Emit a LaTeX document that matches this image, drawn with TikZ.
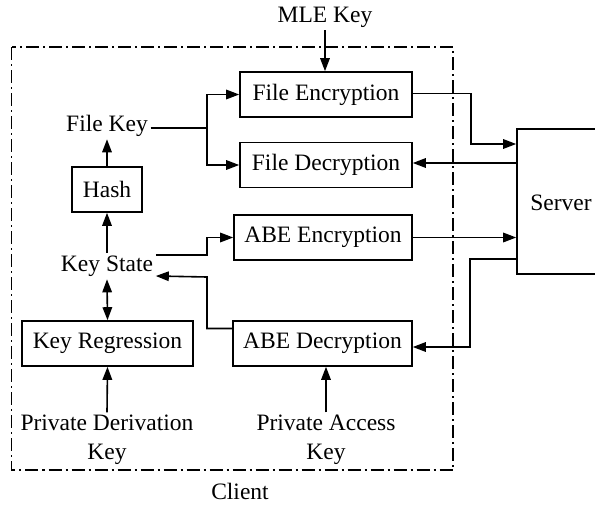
\documentclass[tikz,border=0pt]{standalone}
\usepackage{fontspec}
\setmainfont{Liberation Serif}
\usetikzlibrary{arrows.meta}
\begin{document}
\begin{tikzpicture}[x=1pt,y=-1pt,
  font=\fontsize{23.5}{29}\selectfont,
  line width=1.6pt,
  arr/.style={-{Triangle[length=13pt,width=9.5pt]}},
  darr/.style={{Triangle[length=13pt,width=9.5pt]}-{Triangle[length=13pt,width=9.5pt]}},
  box/.style={draw,rectangle,inner sep=0pt,minimum height=45pt},
  lbl/.style={inner sep=2pt,text height=16pt,text depth=5pt},
  client/.style={dash pattern=on 13pt off 4pt on 2pt off 4pt,line width=1.3pt}]
\clip (0,0) rectangle (595,504);
\fill[white] (0,0) rectangle (595,504);
% client boundary
\draw[client] (11.5,47) rectangle (453,470);
% boxes
\node[box,minimum width=172pt] (fenc) at (326,94.5) {File Encryption};
\node[box,minimum width=172pt] (fdec) at (326,165) {File Decryption};
\node[box,minimum width=178pt] (aenc) at (323,237.5) {ABE Encryption};
\node[box,minimum width=179pt] (adec) at (322.5,343.5) {ABE Decryption};
\node[box,minimum width=70pt] (hash) at (107,189.5) {Hash};
\node[box,minimum width=171pt] (kreg) at (107.5,343.5) {Key Regression};
\node[box,minimum width=90pt,minimum height=145pt] (srv) at (562,201.5) {};
\node[inner sep=0pt] (srvtxt) at (561,203) {Server};
% labels
\node[lbl] (mle) at (325,17) {MLE Key};
\node[lbl] (fkey) at (107,126) {File Key};
\node[lbl] (ks) at (107,266) {Key State};
\node[align=center,inner sep=2pt] (pdk) at (107,440) {Private Derivation\\Key};
\node[align=center,inner sep=2pt] (pak) at (326,440) {Private Access\\Key};
\node[inner sep=1pt] (cl) at (240,491) {Client};
% coordinates
\coordinate (br) at (207,128);
\coordinate (j1) at (207,237.5);
\coordinate (j2) at (207,277);
\coordinate (c1) at (471,144);
\coordinate (c2) at (470,259);
% connectors
\draw[arr] (mle.south) -- (mle.south |- fenc.north);
\draw (fkey.east |- br) -- (br);
\draw[arr] (br) |- (fenc.west);
\draw[arr] (br) |- (fdec.west);
\draw[arr] (hash.north) -- (fkey.south);
\draw[arr] (ks.north) -- (hash.south);
\draw[darr] (ks.south) -- (kreg.north);
\draw[arr] (pdk.north) -- (kreg.south);
\draw[arr] (pak.north) -- (pak.north |- adec.south);
\draw[arr] ([yshift=11pt]ks.east) -| (j1) -- (aenc.west);
\draw[arr] ([yshift=15pt]adec.west) -| (j2) -- ([yshift=-10pt]ks.east);
\draw[arr] ([yshift=1pt]fenc.east) -| (c1) -- (c1 -| srv.west);
\draw[arr] ([yshift=2pt]fdec.east -| srv.west) -- ([yshift=2pt]fdec.east);
\draw[arr] (aenc.east) -- (aenc.east -| srv.west);
\draw[arr] (c2 -| srv.west) -- (c2) |- ([yshift=-3.5pt]adec.east);
\end{tikzpicture}
\end{document}
